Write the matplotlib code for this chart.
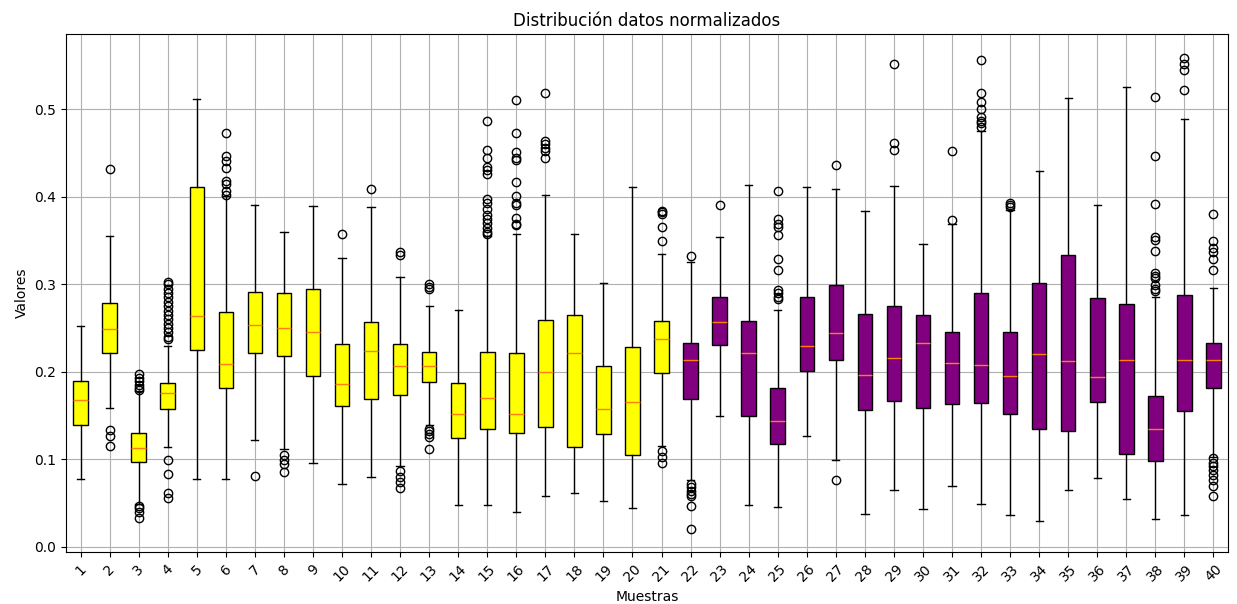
import matplotlib
matplotlib.use("Agg")
import matplotlib.pyplot as plt

labels = [str(i) for i in range(1, 41)]

medians = [0.168, 0.249, 0.113, 0.176, 0.264, 0.209, 0.254, 0.250, 0.245, 0.186,
           0.224, 0.207, 0.207, 0.152, 0.170, 0.152, 0.200, 0.222, 0.157, 0.165,
           0.238, 0.213, 0.257, 0.222, 0.144, 0.230, 0.244, 0.196, 0.216, 0.233,
           0.210, 0.208, 0.195, 0.220, 0.212, 0.194, 0.214, 0.135, 0.213, 0.214]
q1 = [0.1395, 0.221, 0.097, 0.157, 0.225, 0.182, 0.221, 0.218, 0.195, 0.161,
      0.169, 0.174, 0.188, 0.124, 0.135, 0.130, 0.137, 0.114, 0.129, 0.105,
      0.199, 0.169, 0.231, 0.149, 0.117, 0.201, 0.213, 0.156, 0.167, 0.159,
      0.163, 0.164, 0.152, 0.135, 0.132, 0.165, 0.106, 0.098, 0.155, 0.181]
q3 = [0.189, 0.279, 0.130, 0.187, 0.411, 0.268, 0.291, 0.290, 0.295, 0.232,
      0.257, 0.232, 0.223, 0.187, 0.223, 0.222, 0.259, 0.265, 0.207, 0.228,
      0.258, 0.233, 0.286, 0.258, 0.181, 0.286, 0.299, 0.266, 0.275, 0.265,
      0.246, 0.290, 0.246, 0.301, 0.334, 0.284, 0.278, 0.172, 0.288, 0.233]
whislo = [0.077, 0.159, 0.049, 0.114, 0.078, 0.077, 0.122, 0.112, 0.096, 0.072,
          0.080, 0.092, 0.139, 0.048, 0.048, 0.040, 0.058, 0.061, 0.052, 0.044,
          0.115, 0.076, 0.150, 0.048, 0.046, 0.127, 0.0995, 0.038, 0.065, 0.043,
          0.069, 0.049, 0.036, 0.030, 0.065, 0.079, 0.055, 0.032, 0.036, 0.103]
whishi = [0.252, 0.355, 0.178, 0.230, 0.512, 0.401, 0.391, 0.360, 0.389, 0.330,
          0.388, 0.308, 0.275, 0.271, 0.355, 0.358, 0.402, 0.357, 0.301, 0.411,
          0.335, 0.326, 0.354, 0.413, 0.271, 0.411, 0.409, 0.384, 0.412, 0.346,
          0.369, 0.475, 0.385, 0.429, 0.513, 0.390, 0.525, 0.286, 0.489, 0.296]
fliers = [
    [],
    [0.432, 0.133, 0.127, 0.115],
    [0.197, 0.193, 0.189, 0.185, 0.182, 0.179, 0.047, 0.044, 0.040, 0.033],
    [0.303, 0.300, 0.295, 0.290, 0.285, 0.280, 0.275, 0.270, 0.265, 0.260,
     0.255, 0.250, 0.245, 0.240, 0.237, 0.0995, 0.083, 0.062, 0.056],
    [],
    [0.473, 0.447, 0.441, 0.433, 0.418, 0.415, 0.407, 0.402],
    [0.081],
    [0.105, 0.0995, 0.095, 0.086],
    [],
    [0.357],
    [0.409],
    [0.337, 0.334, 0.087, 0.080, 0.074, 0.067],
    [0.300, 0.297, 0.295, 0.135, 0.132, 0.129, 0.125, 0.112],
    [],
    [0.486, 0.453, 0.444, 0.434, 0.431, 0.426, 0.397, 0.393, 0.386, 0.379,
     0.375, 0.370, 0.364, 0.360, 0.357],
    [0.510, 0.473, 0.451, 0.444, 0.442, 0.417, 0.401, 0.393, 0.390, 0.376,
     0.369, 0.368],
    [0.518, 0.464, 0.460, 0.456, 0.452, 0.444],
    [],
    [],
    [],
    [0.384, 0.382, 0.380, 0.366, 0.350, 0.109, 0.103, 0.096],
    [0.332, 0.072, 0.068, 0.064, 0.060, 0.058, 0.047, 0.021],
    [0.390],
    [],
    [0.407, 0.375, 0.369, 0.366, 0.356, 0.329, 0.316, 0.293, 0.290, 0.286, 0.283],
    [],
    [0.436, 0.076],
    [],
    [0.552, 0.461, 0.453],
    [],
    [0.452, 0.373],
    [0.556, 0.519, 0.508, 0.500, 0.491, 0.487, 0.484, 0.480],
    [0.393, 0.390, 0.388],
    [],
    [],
    [],
    [],
    [0.514, 0.447, 0.392, 0.354, 0.351, 0.338, 0.313, 0.310, 0.307, 0.299,
     0.295, 0.292],
    [0.559, 0.552, 0.545, 0.522],
    [0.380, 0.350, 0.341, 0.337, 0.329, 0.316, 0.1015, 0.096, 0.092, 0.088,
     0.082, 0.076, 0.070, 0.058],
]

# colores: primeras 21 muestras amarillas, el resto morado
colors = ['yellow'] * 21 + ['purple'] * 19

stats = []
for i in range(len(labels)):
    stats.append({
        'label': labels[i],
        'med': medians[i],
        'q1': q1[i],
        'q3': q3[i],
        'whislo': whislo[i],
        'whishi': whishi[i],
        'fliers': fliers[i],
    })

fig, ax = plt.subplots(figsize=(12.37, 6.04), dpi=100)
fig.subplots_adjust(left=0.0534, right=0.9927, top=0.9437, bottom=0.086)

bp = ax.bxp(stats, patch_artist=True)
for patch, c in zip(bp['boxes'], colors):
    patch.set_facecolor(c)

ax.set_title("Distribución datos normalizados")
ax.set_xlabel("Muestras")
ax.set_ylabel("Valores")
ax.grid(True)
plt.xticks(rotation=45)

fig.savefig("out.png", dpi=100)
